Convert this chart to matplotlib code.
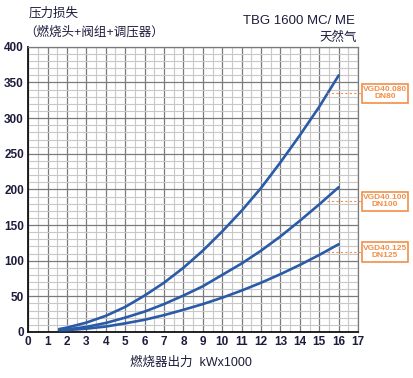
import numpy as np
import matplotlib
matplotlib.use('Agg')
import matplotlib.pyplot as plt
from matplotlib.patches import Rectangle
from matplotlib.ticker import MultipleLocator

plt.rcParams['font.family'] = ['Liberation Sans', 'Noto Sans CJK SC', 'DejaVu Sans']

# burner output (kW x1000) and pressure loss
x_pts = [1.6, 2, 3, 4, 5, 6, 7, 8, 9, 10, 11, 12, 13, 14, 15, 16]
dn80 = [4, 6, 13, 22.5, 35, 51, 69, 90, 114, 141, 170, 202, 238, 276, 316, 360]
dn100 = [3, 3.5, 7, 12.5, 20, 28.5, 39, 51, 64, 80, 96, 114, 134, 156, 179, 203]
dn125 = [2.5, 2.5, 4.5, 7.5, 12, 17, 23.5, 31, 39, 48, 58, 69, 81, 94, 108, 123]

valve_labels = ['VGD40.080\nDN80', 'VGD40.100\nDN100', 'VGD40.125\nDN125']
label_levels = [335, 183, 112]

navy = '#1c1c3c'
blue = '#2a5ba8'
orange = '#f0904a'

fig = plt.figure(figsize=(4.14, 3.78), dpi=100)
ax = fig.add_axes([0.068, 0.122, 0.797, 0.754])

for ys in (dn80, dn100, dn125):
    ax.plot(x_pts, ys, color=blue, lw=1.9, solid_capstyle='round', zorder=3)

ax.set_xlim(0, 17)
ax.set_ylim(0, 400)
ax.xaxis.set_major_locator(MultipleLocator(1))
ax.xaxis.set_minor_locator(MultipleLocator(0.5))
ax.yaxis.set_major_locator(MultipleLocator(50))
ax.yaxis.set_minor_locator(MultipleLocator(10))
ax.grid(which='major', color='#7a7a7a', lw=0.9)
ax.grid(which='minor', color='#c8c8c8', lw=0.8)
ax.set_axisbelow(True)
ax.tick_params(which='both', length=0, pad=3)
for lab in ax.get_xticklabels() + ax.get_yticklabels():
    lab.set_fontweight('bold')
    lab.set_fontsize(8.5)
    lab.set_color(navy)
for s in ['top', 'right']:
    ax.spines[s].set_color('#7a7a7a')
    ax.spines[s].set_linewidth(0.9)
for s in ['left', 'bottom']:
    ax.spines[s].set_color('#111111')
    ax.spines[s].set_linewidth(1.3)

# valve labels on the right (box in axes-x fraction, data-y)
trans = ax.get_yaxis_transform()
for txt, lvl in zip(valve_labels, label_levels):
    ax.plot([15.4, 17.2], [lvl, lvl], color=orange, ls=(0, (2, 2)), lw=0.8,
            clip_on=False, zorder=4)
    ax.add_patch(Rectangle((1.0115, lvl - 13.5), 0.14, 27, transform=trans,
                           fc='white', ec=orange, lw=1.2, clip_on=False, zorder=4))
    ax.text(1.0815, lvl, txt, transform=trans, color=orange, fontsize=6.0,
            fontweight='bold', ha='center', va='center', linespacing=1.0,
            clip_on=False, zorder=5)

fig.text(0.068, 0.965, '压力损失', fontsize=9, color=navy, va='center', ha='left')
fig.text(0.058, 0.915, '（燃烧头+阀组+调压器）', fontsize=9, color=navy, va='center', ha='left')
fig.text(0.857, 0.945, 'TBG 1600 MC/ ME', fontsize=9.5, color=navy, va='center', ha='right')
fig.text(0.862, 0.9, '天然气', fontsize=9, color=navy, va='center', ha='right')
fig.text(0.46, 0.04, '燃烧器出力  kWx1000', fontsize=9, color=navy, va='center', ha='center')

fig.savefig('out.png', dpi=100)
